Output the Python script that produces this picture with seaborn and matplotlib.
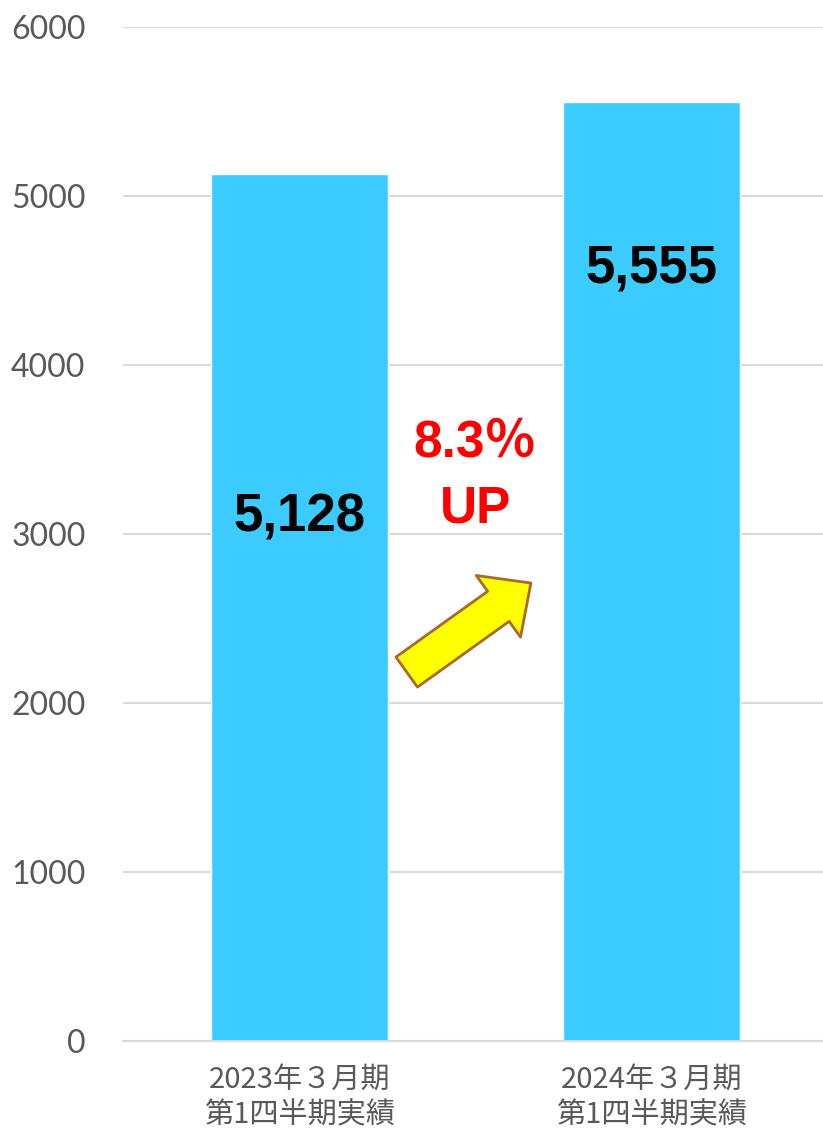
import matplotlib
matplotlib.use("Agg")
import matplotlib.pyplot as plt
import seaborn as sns
import pandas as pd
from matplotlib.patches import FancyArrowPatch, ArrowStyle

categories = ["2023年３月期\n第1四半期実績", "2024年３月期\n第1四半期実績"]
values = [5128, 5555]
value_labels = ["5,128", "5,555"]
label_y = [3100, 4570]
yticks = [0, 1000, 2000, 3000, 4000, 5000, 6000]
growth_pct = "8.3％"
growth_up = "UP"

sns.set_theme(style="white")
plt.rcParams['font.family'] = ['Noto Sans CJK JP', 'DejaVu Sans']

fig = plt.figure(figsize=(8.23, 11.36), dpi=100)
ax = fig.add_axes([0.1495, 0.0836, 0.8505, 0.8926])

df = pd.DataFrame({"cat": categories, "val": values})
sns.barplot(data=df, x="cat", y="val", color="#3BCBFF", saturation=1, width=0.503, ax=ax)

ax.set_xlim(-0.501, 1.488)
ax.set_ylim(0, 6000)
ax.set_yticks(yticks)
ax.set_yticklabels([str(t) for t in yticks], family=['Lato', 'DejaVu Sans'], fontsize=23, color="#595959")
ax.yaxis.grid(True, color="#D9D9D9", linewidth=1.5)
ax.set_axisbelow(True)
for s in ["top", "right", "left"]:
    ax.spines[s].set_visible(False)
ax.spines["bottom"].set_color("#D9D9D9")
ax.spines["bottom"].set_linewidth(1.5)
ax.tick_params(axis="both", length=0)
ax.tick_params(axis="x", pad=17)
ax.tick_params(axis="y", pad=27)
ax.set_xlabel("")
ax.set_ylabel("")
for lbl in ax.get_xticklabels():
    lbl.set_fontsize(21)
    lbl.set_color("#595959")
    lbl.set_linespacing(1.25)

for i, (lab, y) in enumerate(zip(value_labels, label_y)):
    ax.text(i, y, lab, ha="center", va="center", fontsize=38, fontweight="bold",
            family=['Liberation Sans', 'DejaVu Sans'], color="black")

ax.text(0.5, 3540, growth_pct, ha="center", va="center", fontsize=37, fontweight="bold",
        color="#FF0000", family=['Liberation Sans', 'Noto Sans CJK JP'])
ax.text(0.5, 3150, growth_up, ha="center", va="center", fontsize=37, fontweight="bold",
        color="#FF0000", family=['Liberation Sans', 'DejaVu Sans'])

arrow = FancyArrowPatch((0.305, 2183), (0.658, 2710),
                        arrowstyle=ArrowStyle("Simple", head_length=28.8, head_width=54.7, tail_width=26.6),
                        mutation_scale=1, shrinkA=0, shrinkB=0,
                        facecolor="#FFFF00", edgecolor="#A8692E", linewidth=2, zorder=5)
ax.add_patch(arrow)

fig.savefig("out.png", dpi=100)
